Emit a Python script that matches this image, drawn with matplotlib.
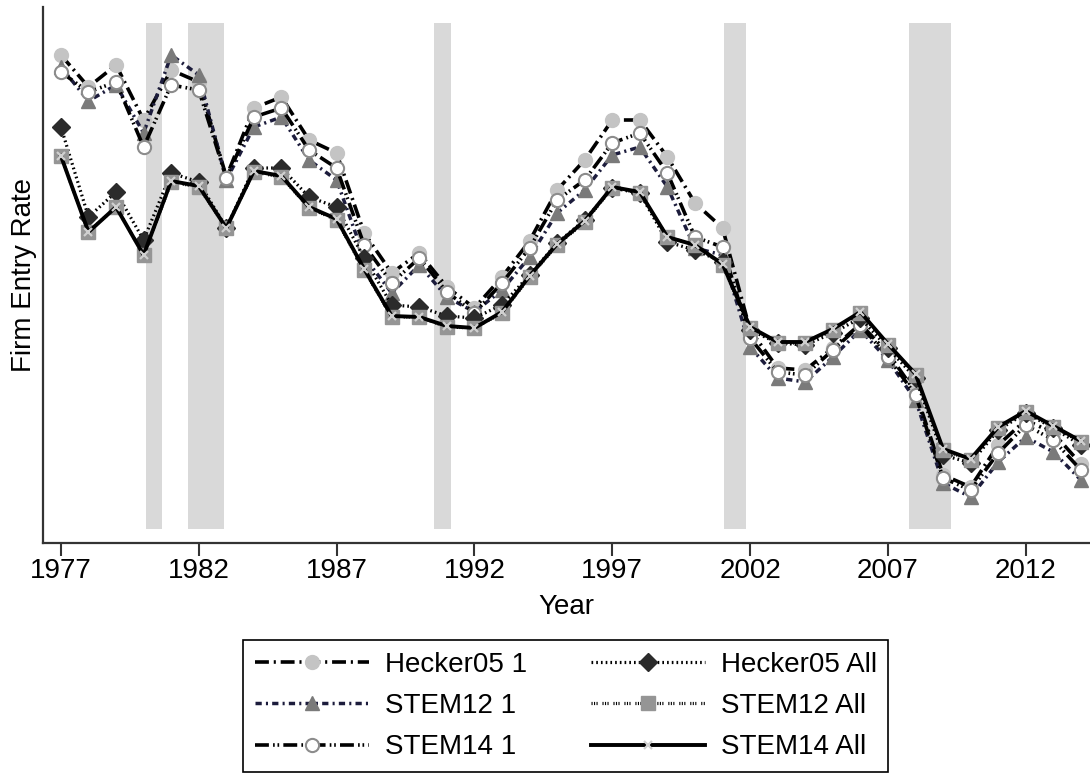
import matplotlib
matplotlib.use("Agg")
import matplotlib.pyplot as plt
import numpy as np

plt.rcParams['font.family'] = ['Liberation Sans', 'DejaVu Sans']
plt.rcParams['lines.scale_dashes'] = False

# Data (firm entry rate index, no scale shown on the original)
years = np.arange(1977, 2015)

hecker05_1 = [488, 456, 478, 423, 473, 461, 366, 435, 446, 403, 390, 310, 270, 290, 256, 235, 266, 302, 353,
              383, 423, 423, 386, 340, 315, 213, 175, 173, 195, 219, 190, 151, 68, 56, 98, 123, 110, 79]
stem12_1 = [476, 442, 458, 410, 488, 468, 363, 416, 426, 383, 363, 286, 250, 278, 246, 231, 253, 286, 330,
            353, 388, 396, 356, 295, 288, 196, 165, 161, 186, 213, 183, 143, 60, 46, 81, 106, 91, 63]
stem14_1 = [471, 451, 461, 396, 458, 453, 365, 426, 435, 393, 375, 298, 260, 285, 251, 230, 260, 295, 343,
            363, 400, 410, 370, 306, 296, 205, 171, 168, 193, 218, 186, 148, 65, 53, 90, 118, 103, 73]
hecker05_all = [416, 326, 351, 303, 370, 361, 315, 375, 375, 346, 336, 285, 238, 236, 227, 225, 238, 268, 300,
                323, 355, 350, 301, 293, 281, 213, 200, 198, 210, 225, 195, 165, 88, 80, 113, 130, 115, 98]
stem12_all = [387, 311, 336, 288, 361, 356, 315, 371, 366, 335, 323, 273, 226, 226, 216, 215, 230, 266, 298,
              321, 355, 350, 306, 298, 278, 215, 200, 200, 213, 230, 198, 168, 93, 83, 115, 131, 116, 101]
stem14_all = [387, 311, 336, 288, 362, 357, 315, 372, 367, 336, 324, 274, 227, 226, 217, 215, 231, 267, 299,
              322, 356, 351, 306, 298, 279, 216, 201, 201, 214, 231, 199, 169, 94, 84, 116, 132, 117, 102]

# recession periods
rec_start = [1980.1, 1981.6, 1990.55, 2001.05, 2007.75]
rec_end = [1980.65, 1982.9, 1991.15, 2001.85, 2009.3]

fig = plt.figure(figsize=(10.9, 7.75), dpi=100)
ax = fig.add_axes([43/1090, 1 - 543/775, 1 - 43/1090, 536/775])

ymax = 536
for s, e in zip(rec_start, rec_end):
    ax.axvspan(s, e, ymin=14/ymax, ymax=520/ymax, color='#d9d9d9', lw=0, zorder=0)

# series styles
styles = [
    (hecker05_1, 'Hecker05 1', dict(color='black', lw=2.6, ls=(0, (10, 3.5, 1.5, 3.5)),
                                   marker='o', ms=10, mfc='#c4c4c4', mec='#c4c4c4')),
    (stem12_1, 'STEM12 1', dict(color='#1c1c3c', lw=2.5, ls=(0, (4.5, 3, 1.5, 3)),
                                marker='^', ms=10.5, mfc='#7a7a7a', mec='#7a7a7a')),
    (stem14_1, 'STEM14 1', dict(color='black', lw=2.6, ls=(0, (10, 3, 1.2, 2, 1.2, 3)),
                                marker='o', ms=9.5, mfc='white', mec='#8c8c8c', mew=1.5)),
    (hecker05_all, 'Hecker05 All', dict(color='black', lw=2.3, ls=(0, (1.2, 2.2)),
                                        marker='D', ms=9, mfc='#2b2b2b', mec='#2b2b2b')),
    (stem12_all, 'STEM12 All', dict(color='black', lw=2.3, ls=(0, (0.8, 1, 0.8, 1, 0.8, 3.5)),
                                    marker='s', ms=9.5, mfc='#959595', mec='#959595')),
    (stem14_all, 'STEM14 All', dict(color='black', lw=2.8, ls='-',
                                    marker='x', ms=6, mec='#d0d0d0', mew=1.6)),
]

handles = []
for vals, label, kw in styles:
    h, = ax.plot(years, vals, label=label, **kw)
    handles.append(h)

ax.set_xlim(1976.35, 2014.33)
ax.set_ylim(0, ymax)
ax.set_xticks(np.arange(1977, 2013, 5))
ax.set_yticks([])
ax.tick_params(axis='x', labelsize=20, length=9, width=1.5, color='#333333', pad=2)
ax.set_xlabel('Year', fontsize=20, labelpad=7)
ax.set_ylabel('Firm Entry Rate', fontsize=20, labelpad=4)
for side in ['top', 'right']:
    ax.spines[side].set_visible(False)
for side in ['left', 'bottom']:
    ax.spines[side].set_linewidth(1.6)
    ax.spines[side].set_color('#333333')

leg = fig.legend(handles=handles, ncol=2, loc='upper left',
                 bbox_to_anchor=(243/1090, 1 - 640/775), borderaxespad=0,
                 fontsize=20, handlelength=4.1, handletextpad=0.58, columnspacing=2.3,
                 labelspacing=0.55, borderpad=0.42, fancybox=False,
                 edgecolor='black', framealpha=1)
leg.get_frame().set_linewidth(1.2)

fig.savefig('out.png', dpi=100)
